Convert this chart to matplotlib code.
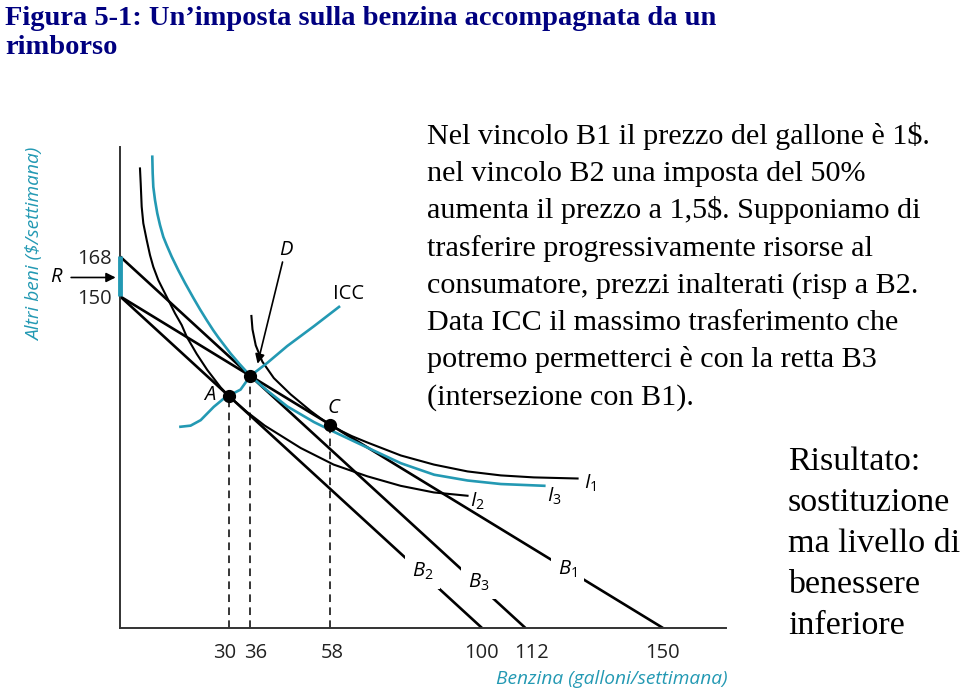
import matplotlib
matplotlib.use("Agg")
import matplotlib.pyplot as plt
from matplotlib.transforms import ScaledTranslation

plt.rcParams['mathtext.fontset'] = 'custom'
plt.rcParams['mathtext.it'] = 'Open Sans:italic'
plt.rcParams['mathtext.rm'] = 'Open Sans'

teal = '#2399b3'
navy = '#000080'
sans = 'Open Sans'
serif = 'Liberation Serif'

# budget lines
b1_x, b1_y = [0, 150], [150, 0]
b2_x, b2_y = [0, 100], [150, 0]
b3_x, b3_y = [0, 112], [168, 0]

# indifference curves
i1_x = [36.3, 36.6, 37.5, 39.3, 42.5, 47.1, 52.7, 55.5, 58, 61, 64, 68.3, 77.6, 86.7, 96.0, 105.2, 114.3, 126.4]
i1_y = [141.1, 135.0, 127.8, 120.5, 113.0, 105.7, 98.1, 94.7, 92.0, 89.2, 86.8, 83.9, 78.0, 73.9, 70.8, 69.0, 68.1, 67.6]

i2_x = [5.52, 5.72, 5.99, 6.44, 7.38, 8.29, 9.20, 10.58, 11.96, 13.81, 15.19, 17.04, 18.43, 21.2, 24.1, 27.8,
        30.0, 35.0, 40.0, 49.9, 59.0, 68.3, 77.5, 86.7, 96.0]
i2_y = [207.8, 201.0, 190.5, 183.0, 175.4, 168.6, 163.3, 157.3, 152.8, 146.8, 142.3, 137.0, 131.7, 123.9, 116.7, 108.8,
        105.0, 97.8, 91.5, 81.4, 73.9, 68.6, 64.3, 61.3, 59.8]

i3_x = [8.92, 9.03, 9.2, 9.67, 10.3, 11.05, 11.96, 12.9, 14.28, 16.1, 17.96, 20.25, 22.1, 23.95, 25.77, 27.15,
        30.55, 33.0, 36.0, 40.7, 46.2, 53.6, 59.1, 68.3, 77.6, 86.8, 96.0, 105.2, 117.2]
i3_y = [213.1, 205.6, 199.5, 193.5, 187.5, 182.2, 176.9, 173.1, 167.9, 161.8, 156.0, 149.3, 144.1, 139.2, 134.6, 131.4,
        124.1, 119.4, 114.0, 107.3, 100.2, 93.1, 88.7, 81.6, 74.5, 69.3, 66.7, 65.1, 64.3]

icc_x = [16.7, 19.5, 22.3, 25.9, 28.7, 30.0, 33.3, 36.0, 40.7, 46.2, 53.6, 60.5]
icc_y = [91.0, 91.5, 94.0, 100.0, 103.8, 105.0, 107.8, 114.0, 119.9, 127.5, 136.5, 145.2]

# optimum points
pt_names = ['A', 'D', 'C']
pt_x = [30, 36, 58]
pt_y = [105, 114, 92]

x_ticks = [30, 36, 58, 100, 112, 150]
x_tick_nudge = [-4, 5, 2, -1, 6, -1]   # px, labels are spread apart in the original
y_ticks = [150, 168]

title_lines = ["Figura 5-1: Un\u2019imposta sulla benzina accompagnata da un", "rimborso"]
body_lines = [
    "Nel vincolo B1 il prezzo del gallone è 1$.",
    "nel vincolo B2 una imposta del 50%",
    "aumenta il prezzo a 1,5$. Supponiamo di",
    "trasferire progressivamente risorse al",
    "consumatore, prezzi inalterati (risp a B2.",
    "Data ICC il massimo trasferimento che",
    "potremo permetterci è con la retta B3",
    "(intersezione con B1).",
]
result_lines = ["Risultato:", "sostituzione", "ma livello di", "benessere", "inferiore"]

W, H = 960, 691
fig = plt.figure(figsize=(9.6, 6.91), dpi=100)


def fx(px):
    return px / W


def fy(py):
    return 1 - py / H


ax = fig.add_axes([fx(120), fy(628), (726 - 120) / W, (628 - 147) / H])
ax.set_xlim(0, 167.4)
ax.set_ylim(0, 217.5)
for s in ['top', 'right']:
    ax.spines[s].set_visible(False)
for s in ['left', 'bottom']:
    ax.spines[s].set_color('#333333')
    ax.spines[s].set_linewidth(1.4)

ax.set_xticks(x_ticks)
ax.set_xticklabels([str(v) for v in x_ticks], fontfamily=sans, fontsize=14.5, color='#222222')
ax.set_yticks(y_ticks)
ax.set_yticklabels([str(v) for v in y_ticks], fontfamily=sans, fontsize=14.5, color='#222222')
ax.tick_params(axis='x', length=0, pad=11)
ax.tick_params(axis='y', length=0, pad=6)
for lbl, dx in zip(ax.get_xticklabels(), x_tick_nudge):
    lbl.set_transform(lbl.get_transform() + ScaledTranslation(dx / 100, 0, fig.dpi_scale_trans))

# budget lines
for bx, by in [(b1_x, b1_y), (b2_x, b2_y), (b3_x, b3_y)]:
    ax.plot(bx, by, color='black', lw=1.9, solid_capstyle='butt')

# indifference curves and ICC
ax.plot(i1_x, i1_y, color='black', lw=1.5)
ax.plot(i2_x, i2_y, color='black', lw=1.5)
ax.plot(i3_x, i3_y, color=teal, lw=1.9)
ax.plot(icc_x, icc_y, color=teal, lw=1.9)

# rebate segment on the y axis
ax.plot([0, 0], [y_ticks[0], y_ticks[1]], color=teal, lw=3.5, solid_capstyle='butt', clip_on=False, zorder=5)

# dashed drop lines and points
for px_, py_ in zip(pt_x, pt_y):
    ax.plot([px_, px_], [0, py_], color='black', lw=1.1, dashes=(5, 3.5))
ax.plot(pt_x, pt_y, 'o', color='black', ms=8.5, zorder=6)

lab = dict(fontfamily=sans, fontsize=14.5, style='italic', ha='center', va='center')
ax.text(24.7, 105.5, 'A', **lab)
ax.text(59.0, 99.7, 'C', **lab)
ax.text(45.8, 171.0, 'D', **lab)
ax.text(63.0, 151.0, 'ICC', fontfamily=sans, fontsize=14.5, ha='center', va='center')
ax.text(-17.6, 158.5, 'R', clip_on=False, **lab)

ax.annotate('', xy=(38.0, 119.5), xytext=(44.9, 165.5),
            arrowprops=dict(arrowstyle='-|>', color='black', lw=1.2, mutation_scale=14,
                            shrinkA=0, shrinkB=0))
ax.annotate('', xy=(-1.2, 158.5), xytext=(-13.5, 158.5), annotation_clip=False,
            arrowprops=dict(arrowstyle='-|>', color='black', lw=1.2, mutation_scale=14,
                            shrinkA=0, shrinkB=0))

box = dict(facecolor='white', edgecolor='none', pad=5)
mlab = dict(fontsize=14.5, ha='center', va='center')
ax.text(83.6, 25.4, r'$B_{\mathrm{2}}$', bbox=box, **mlab)
ax.text(99.1, 20.8, r'$B_{\mathrm{3}}$', bbox=box, **mlab)
ax.text(123.7, 26.7, r'$B_{\mathrm{1}}$', bbox=box, **mlab)
ax.text(129.8, 65.5, r'$I_{\mathrm{1}}$', **mlab)
ax.text(98.8, 57.3, r'$I_{\mathrm{2}}$', **mlab)
ax.text(120.1, 59.6, r'$I_{\mathrm{3}}$', **mlab)

# axis titles
fig.text(fx(35), fy(244), 'Altri beni ($/settimana)', rotation=90, color=teal,
         fontfamily=sans, style='italic', fontsize=13.8, ha='center', va='center')
fig.text(fx(612), fy(679), 'Benzina (galloni/settimana)', color=teal,
         fontfamily=sans, style='italic', fontsize=13.8, ha='center', va='center')

# title
for i, line in enumerate(title_lines):
    fig.text(fx(5), fy(25 + 29 * i), line, color=navy, fontfamily=serif,
             fontweight='bold', fontsize=20.5, ha='left', va='baseline')

for i, line in enumerate(body_lines):
    fig.text(fx(427), fy(144 + 37.2 * i), line, color='black', fontfamily=serif,
             fontsize=21.7, ha='left', va='baseline')

for i, line in enumerate(result_lines):
    fig.text(fx(788), fy(470 + 41 * i), line, color='black', fontfamily=serif,
             fontsize=24.5, ha='left', va='baseline')

fig.savefig('out.png', dpi=100)
